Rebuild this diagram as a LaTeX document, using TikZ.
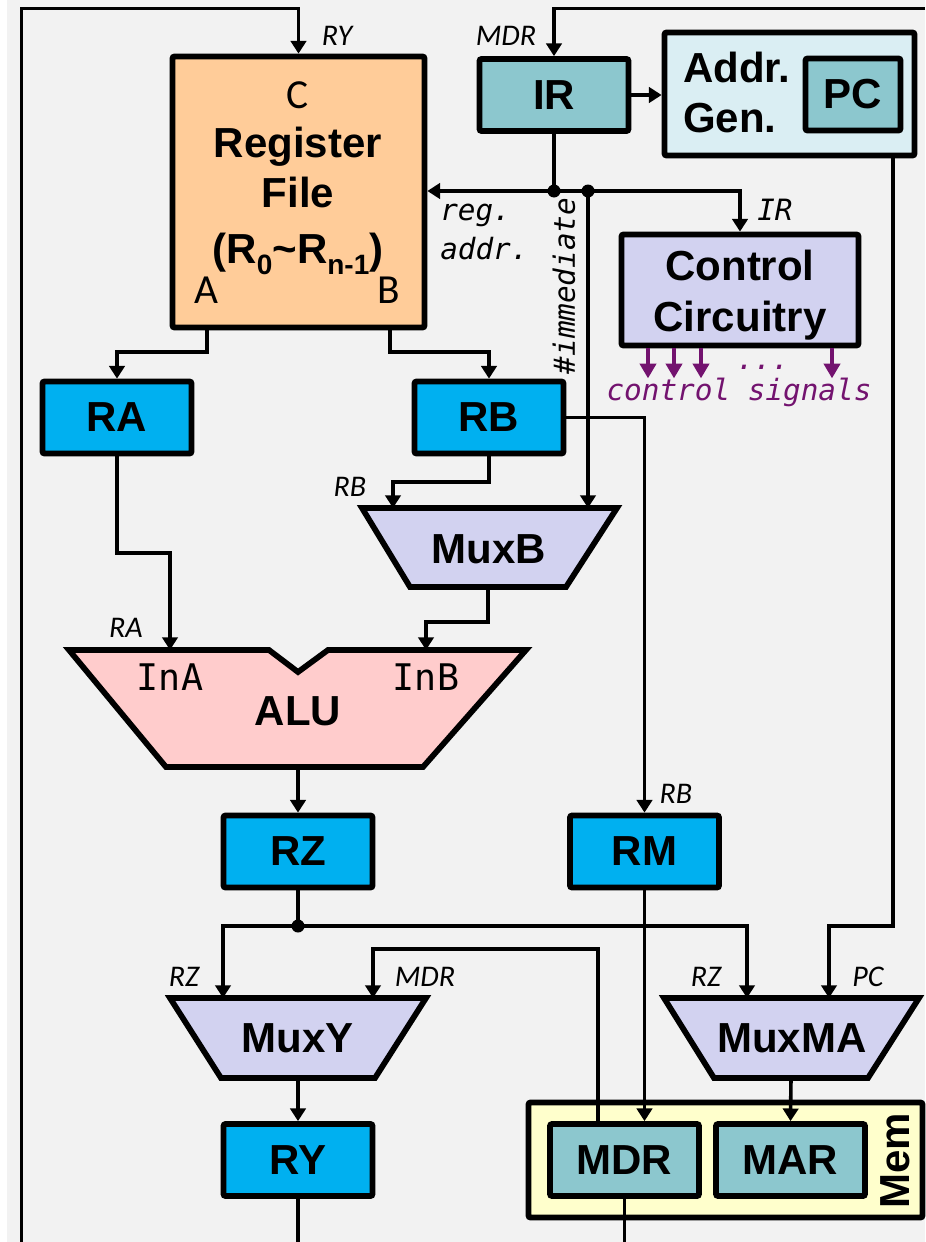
\documentclass[tikz,border=0pt]{standalone}
\usepackage{fontspec}
\setmainfont{Liberation Sans}
\newfontfamily\carl{Carlito}
\newfontfamily\dmono{DejaVu Sans Mono}
\usetikzlibrary{arrows.meta,calc}
\definecolor{cbg}{HTML}{F2F2F2}
\definecolor{cblue}{HTML}{00B0F0}
\definecolor{cteal}{HTML}{8CC7CE}
\definecolor{caddr}{HTML}{DAEEF3}
\definecolor{cctrl}{HTML}{D2D2F0}
\definecolor{calu}{HTML}{FFCCCC}
\definecolor{crf}{HTML}{FFCC99}
\definecolor{cmem}{HTML}{FFFFCC}
\definecolor{cpurple}{HTML}{73136F}
\newcommand\bfnt{\fontsize{31.5}{37.5}\selectfont\bfseries}
\newcommand\subfnt{\fontsize{21}{21}\selectfont\bfseries}
\newcommand\ifnt{\carl\itshape\fontsize{22.5}{26}\selectfont}
\newcommand\cfnt{\carl\fontsize{31}{36}\selectfont}
\newcommand\mfnt{\dmono\itshape\fontsize{22}{26}\selectfont}
\newcommand\mrfnt{\dmono\fontsize{27.5}{32}\selectfont}
\begin{document}
\begin{tikzpicture}[x=0.75pt,y=-0.75pt,
  wire/.style={line width=2.7pt},
  conn/.style={wire,-{Triangle[width=11.5pt,length=9.5pt]}},
  sig/.style={line width=3.2pt,draw=cpurple,-{Triangle[width=12pt,length=11pt]}},
  blk/.style={draw,line width=4.3pt,rounded corners=1.5pt,inner sep=0pt,font=\bfnt},
  regbox/.style={blk,fill=cblue,minimum width=111.75pt,minimum height=54pt},
  tealbox/.style={blk,fill=cteal,minimum width=111.75pt,minimum height=54pt},
  muxshape/.style={draw,line width=4.3pt,fill=cctrl},
  jdot/.style={circle,fill=black,inner sep=0pt,minimum size=9.75pt},
  ilab/.style={font=\ifnt,inner sep=0pt},
  mlab/.style={font=\mfnt,inner sep=0pt},
  txt/.style={inner sep=0pt},
]
\useasboundingbox (0,0) rectangle (925,1242);
\fill[white] (0,0) rectangle (925,1242);
\fill[cbg] (7,0) rectangle (925,1242);

% ---------- blocks ----------
\node[blk,fill=crf,minimum width=189pt,minimum height=203.25pt] (rf) at (298.5,192) {};
\node[txt,font=\cfnt,anchor=base] (rfC) at (298,108) {C};
\node[txt,font=\bfnt,anchor=base] (rfT1) at (298,157) {Register};
\node[txt,font=\bfnt,anchor=base] (rfT2) at (298,207) {File};
\node[txt,font=\bfnt,anchor=base] (rfT3) at (298,263) {(R\raisebox{-0.28em}{\subfnt 0}\symbol{126}R\raisebox{-0.28em}{\subfnt n-1})};
\node[txt,font=\cfnt,anchor=base] (rfAl) at (206,303) {A};
\node[txt,font=\cfnt,anchor=base] (rfBl) at (389,303) {B};

\node[tealbox] (IR) at (554,95) {IR};
\node[blk,fill=caddr,minimum width=187.5pt,minimum height=92.25pt] (ag) at (789.5,94) {};
\node[txt,font=\bfnt,anchor=base west] (agT1) at (683,82) {Addr.};
\node[txt,font=\bfnt,anchor=base west] (agT2) at (683,132) {Gen.};
\node[blk,fill=cteal,minimum width=71.25pt,minimum height=54pt] (PC) at (853,94.5) {PC};

\node[blk,fill=cctrl,minimum width=177.75pt,minimum height=83.25pt] (ctrl) at (740,290) {};
\node[txt,font=\bfnt,anchor=base] (ctT1) at (740,280) {Control};
\node[txt,font=\bfnt,anchor=base] (ctT2) at (740,331) {Circuitry};

\node[regbox] (RA) at (117,417.5) {RA};
\node[regbox] (RB) at (489,417.5) {RB};

\draw[muxshape] (362,508) -- (617,508) -- (566,587) -- (410,587) -- cycle;
\node[txt,font=\bfnt] (muxB) at (489,549) {MuxB};
\coordinate (mbA) at (393,508);
\coordinate (mbB) at (588,508);
\coordinate (mbO) at (488,587);

\draw[line width=4.3pt,fill=calu] (69,650) -- (269,650) -- (298,672) -- (328,650) -- (526,650) -- (423,767) -- (166,767) -- cycle;
\node[txt,font=\mrfnt,anchor=base] (inA) at (170,690) {InA};
\node[txt,font=\mrfnt,anchor=base] (inB) at (426,690) {InB};
\node[txt,font=\bfnt,anchor=base] (alu) at (298,725) {ALU};
\coordinate (aluA) at (170,650);
\coordinate (aluB) at (426,650);
\coordinate (aluO) at (298,767);

\node[regbox] (RZ) at (298,851.5) {RZ};
\node[regbox] (RM) at (644.5,851.5) {RM};

\draw[muxshape] (170,998) -- (426,998) -- (375,1078) -- (221,1078) -- cycle;
\node[txt,font=\bfnt] (muxY) at (298,1038) {MuxY};
\coordinate (myA) at (223,998);
\coordinate (myB) at (373,998);
\coordinate (myO) at (298,1078);

\draw[muxshape] (664,998) -- (919,998) -- (868,1078) -- (714,1078) -- cycle;
\node[txt,font=\bfnt] (muxMA) at (792,1038) {MuxMA};
\coordinate (mmA) at (747,998);
\coordinate (mmB) at (829,998);
\coordinate (mmO) at (791,1078);

\node[regbox] (RY) at (298,1160) {RY};
\node[blk,fill=cmem,minimum width=295.5pt,minimum height=86.25pt] (mem) at (725.5,1160) {};
\node[tealbox] (MDR) at (624.5,1160) {MDR};
\node[tealbox] (MAR) at (790.5,1160) {MAR};
\node[txt,font=\bfnt,rotate=90] (memT) at (895,1161) {Mem};

% ---------- connectors ----------
\coordinate (topY) at (0,8.5);
\coordinate (loopIn) at (21.5,1242);
\coordinate (ryEnd) at (298,1242);
\coordinate (mdrEnd) at (624.5,1242);
\coordinate (mdrIn) at (925,8.5);
\coordinate (rfAout) at (207,327.5);
\coordinate (rfBout) at (390,327.5);
\coordinate (agOut) at (893,155.5);
\coordinate (mdrFb) at (598,1124);

\draw[conn] (loopIn) |- (rf.north |- topY) -- (rf.north);
\draw[wire] (RY.south) -- (ryEnd);
\draw[wire] (MDR.south) -- (mdrEnd);
\draw[conn] (mdrIn) -| (IR.north);
\draw[conn] (IR.east) -- (IR.east -| ag.west);

\node[jdot] (j1) at (554,191) {};
\node[jdot] (j2) at (588,191) {};
\draw[wire] (IR.south) -- (j1.center);
\draw[conn] (j1.center) -- (j1 -| rf.east);
\draw[wire] (j1.center) -- (j2.center);
\draw[conn] (j2.center) -| (ctrl.north);
\draw[conn] (j2.center) -- (mbB);

\draw[conn] (rfAout) |- (117,352) -- (RA.north);
\draw[conn] (rfBout) |- (489,352) -- (RB.north);
\draw[conn] (RA.south) |- (170,553) -- (aluA);
\draw[conn] (RB.south) |- (393,482) -- (mbA);
\draw[conn] (RB.east) -| (RM.north);
\draw[conn] (mbO) |- (426,622) -- (aluB);
\draw[conn] (aluO) -- (RZ.north);

\node[jdot] (j3) at (298,926) {};
\draw[wire] (RZ.south) -- (j3.center);
\draw[conn] (j3.center) -| (myA);
\draw[conn] (j3.center) -| (mmA);
\draw[conn] (agOut) |- (829,926) -- (mmB);
\draw[conn] (RM.south) -- (RM.south |- MDR.north);
\draw[conn] (mdrFb) |- (373,949) -- (myB);
\draw[conn] (myO) -- (RY.north);
\draw[conn] (mmO) -- (MAR.north);

\foreach \xx in {648,674,701,832} \draw[sig] (ctrl.south -| \xx,0) -- ++(0,30);

% ---------- labels ----------
\node[ilab] (lRY) at (337,36) {RY};
\node[ilab] (lMDR1) at (506,36) {MDR};
\node[ilab] (lRB1) at (350,487) {RB};
\node[ilab] (lRA) at (126,628) {RA};
\node[ilab] (lRB2) at (676,794) {RB};
\node[ilab] (lRZ1) at (184,977) {RZ};
\node[ilab] (lMDR2) at (425,977) {MDR};
\node[ilab] (lRZ2) at (706,977) {RZ};
\node[ilab] (lPC) at (868,977) {PC};
\node[mlab,anchor=base west] (lreg) at (440,220) {reg.};
\node[mlab,anchor=base west] (laddr) at (440,259) {addr.};
\node[mlab,anchor=base west] (lIR) at (757,220) {IR};
\node[mlab,rotate=90] (limm) at (564,286) {\#immediate};
\node[mlab,text=cpurple,anchor=base] (ldots) at (763,369) {...};
\node[mlab,text=cpurple,anchor=base] (lcs) at (739,400) {control signals};
\end{tikzpicture}
\end{document}
